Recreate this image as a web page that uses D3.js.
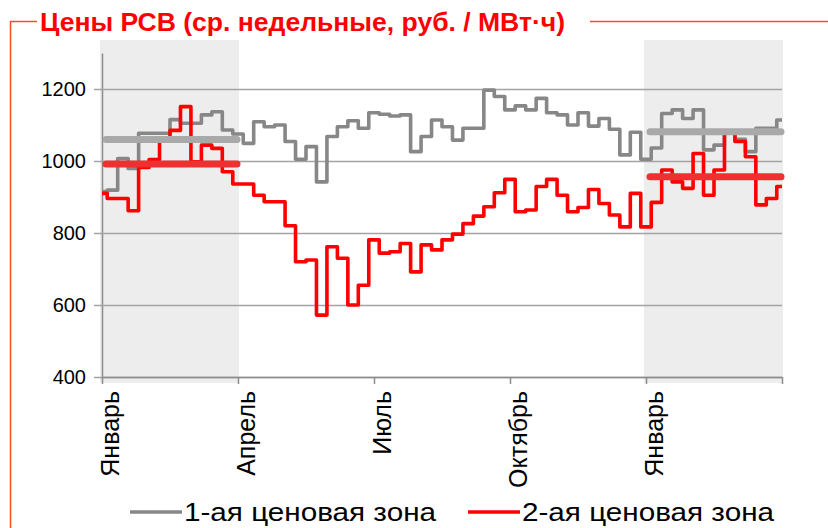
<!DOCTYPE html>
<html>
<head>
<meta charset="utf-8">
<script src="https://cdn.jsdelivr.net/npm/d3@7"></script>
<style>
  body { margin: 0; background: #fff; }
  text { font-family: "Liberation Sans", Arial, sans-serif; }
</style>
</head>
<body>
<div id="wrapper"></div>
<script>
// weekly averages, week 0 = first week of January, 66 weeks shown
const title = "Цены РСВ (ср. недельные, руб. / МВт·ч)";
const seriesNames = ["1-ая ценовая зона", "2-ая ценовая зона"];
const monthLabels = ["Январь", "Апрель", "Июль", "Октябрь", "Январь"];
const monthWeeks = [0, 13, 26, 39, 52, 65];
const yTicks = [400, 600, 800, 1000, 1200];

const zone1 = [
  915, 919, 1007, 979, 1077, 1077, 1077, 1115, 1105, 1105, 1128, 1137, 1086,
  1075, 1049, 1109, 1095, 1100, 1054, 1005, 1040, 942, 1068, 1095, 1112, 1091,
  1134, 1130, 1125, 1128, 1026, 1068, 1114, 1095, 1058, 1091, 1091, 1197, 1179,
  1142, 1153, 1142, 1174, 1134, 1128, 1100, 1134, 1097, 1118, 1088, 1017, 1080,
  1005, 1036, 1132, 1142, 1118, 1142, 1031, 1044, 1080, 1060, 1026, 1091, 1091,
  1114,
];
const zone2 = [
  910, 896, 896, 862, 982, 1004, 1055, 1085, 1151, 998, 1044, 1035, 970,
  936, 936, 905, 887, 887, 820, 720, 725, 572, 762, 730, 600, 655,
  781, 744, 748, 771, 692, 767, 753, 781, 797, 826, 847, 873, 912,
  949, 859, 864, 929, 949, 905, 859, 871, 921, 882, 850, 817, 910,
  817, 885, 975, 942, 924, 1021, 905, 975, 1077, 1054, 1012, 878, 896,
  929,
];

// first quarter of each year is highlighted with its average
const shadedQuarters = [[0, 13], [52, 65]];
const zone1Means = [1060, 1081];
const zone2Means = [992, 956];

function drawChart() {

  // 1. Dimensions

  const dimensions = {
    width: 828,
    height: 528,
    margin: {
      top: 53,
      right: 46,
      bottom: 151,
      left: 102,
    },
  };
  dimensions.boundedWidth = dimensions.width - dimensions.margin.left - dimensions.margin.right;
  dimensions.boundedHeight = dimensions.height - dimensions.margin.top - dimensions.margin.bottom;

  const frameColor = "#ff4d1f";
  const zone1Color = "#878787";
  const zone2Color = "#ff0000";

  // 2. Canvas

  const wrapper = d3.select("#wrapper")
    .append("svg")
      .attr("width", dimensions.width)
      .attr("height", dimensions.height);

  // frame around the slide block + title
  wrapper.append("path")
      .attr("d", "M10.5,528V21.5H37")
      .attr("fill", "none")
      .attr("stroke", frameColor)
      .attr("stroke-width", 1.5);

  wrapper.append("line")
      .attr("x1", 590).attr("x2", dimensions.width)
      .attr("y1", 21.5).attr("y2", 21.5)
      .attr("stroke", frameColor)
      .attr("stroke-width", 1.5);

  wrapper.append("text")
      .attr("x", 40)
      .attr("y", 31)
      .attr("textLength", 525)
      .attr("lengthAdjust", "spacingAndGlyphs")
      .style("font-family", "'Liberation Sans Narrow', 'Arial Narrow', 'Liberation Sans', sans-serif")
      .style("font-size", "25px")
      .style("font-weight", "bold")
      .attr("fill", "#ff0000")
      .text(title);

  const bounds = wrapper.append("g")
      .attr("transform", `translate(${dimensions.margin.left}, ${dimensions.margin.top})`);

  // 3. Scales

  const xScale = d3.scaleLinear()
    .domain([0, zone1.length - 1])
    .range([0, dimensions.boundedWidth]);

  const yScale = d3.scaleLinear()
    .domain([400, 1300])
    .range([dimensions.boundedHeight, 0]);

  // 4. Background bands

  bounds.append("g")
    .selectAll("rect")
    .data(shadedQuarters)
    .join("rect")
      .attr("x", d => xScale(d[0]) - 2)
      .attr("width", d => xScale(d[1]) - xScale(d[0]) + 3)
      .attr("y", -13)
      .attr("height", dimensions.boundedHeight + 19)
      .attr("fill", "#ededed");

  // 5. Axes + grid

  const yAxis = bounds.append("g")
    .call(d3.axisLeft(yScale)
      .tickValues(yTicks)
      .tickFormat(d3.format("d"))
      .tickSizeOuter(0)
      .tickPadding(10));

  yAxis.select(".domain")
      .attr("stroke", "#8c8c8c")
      .attr("stroke-width", 1.5);

  yAxis.selectAll(".tick line")
      .attr("x1", -8)
      .attr("x2", dimensions.boundedWidth)
      .attr("stroke", "#a3a3a3")
      .attr("stroke-width", 1.5);

  yAxis.selectAll(".tick text")
      .style("font-size", "20px")
      .attr("fill", "#000");

  const xAxis = bounds.append("g")
      .attr("transform", `translate(0, ${dimensions.boundedHeight})`)
    .call(d3.axisBottom(xScale).tickValues(monthWeeks).tickSize(7).tickSizeOuter(0).tickFormat(""));

  xAxis.selectAll("path, line")
      .attr("stroke", "#8c8c8c")
      .attr("stroke-width", 1.5);

  xAxis.selectAll(".month-label")
    .data(monthLabels)
    .join("text")
      .attr("class", "month-label")
      .attr("transform", (d, i) => `translate(${xScale(monthWeeks[i]) + 8}, 14) rotate(-90)`)
      .attr("text-anchor", "end")
      .attr("dy", "0.35em")
      .style("font-size", "25px")
      .attr("fill", "#000")
      .text(d => d);

  // 6. Weekly lines

  const lineGenerator = d3.line()
    .x((d, i) => xScale(i))
    .y(d => yScale(d))
    .curve(d3.curveStep);

  [[zone1, zone1Color], [zone2, zone2Color]].forEach(([values, color]) => {
    bounds.append("path")
        .attr("d", lineGenerator(values))
        .attr("fill", "none")
        .attr("stroke", color)
        .attr("stroke-width", 3.6)
        .attr("stroke-linejoin", "round");
  });

  // quarter averages
  const meanLines = [
    ...shadedQuarters.map((q, i) => ({ q, value: zone1Means[i], color: "#a9a9a9" })),
    ...shadedQuarters.map((q, i) => ({ q, value: zone2Means[i], color: "#ee3030" })),
  ];

  bounds.append("g")
    .selectAll("line")
    .data(meanLines)
    .join("line")
      .attr("x1", d => xScale(d.q[0]) + 4)
      .attr("x2", d => xScale(d.q[1]) - 1)
      .attr("y1", d => yScale(d.value))
      .attr("y2", d => yScale(d.value))
      .attr("stroke", d => d.color)
      .attr("stroke-width", 7)
      .attr("stroke-linecap", "round");

  // 7. Legend

  const legendItems = [
    { name: seriesNames[0], color: zone1Color, x: 130 },
    { name: seriesNames[1], color: zone2Color, x: 468 },
  ];

  const legend = wrapper.append("g")
    .selectAll("g")
    .data(legendItems)
    .join("g")
      .attr("transform", d => `translate(${d.x}, 512)`);

  legend.append("line")
      .attr("x1", 0).attr("x2", 52)
      .attr("stroke", d => d.color)
      .attr("stroke-width", 3.5);

  legend.append("text")
      .attr("x", 54)
      .attr("y", 9)
      .attr("textLength", 252)
      .attr("lengthAdjust", "spacingAndGlyphs")
      .style("font-size", "25px")
      .attr("fill", "#000")
      .text(d => d.name);
}
drawChart();
</script>
</body>
</html>
